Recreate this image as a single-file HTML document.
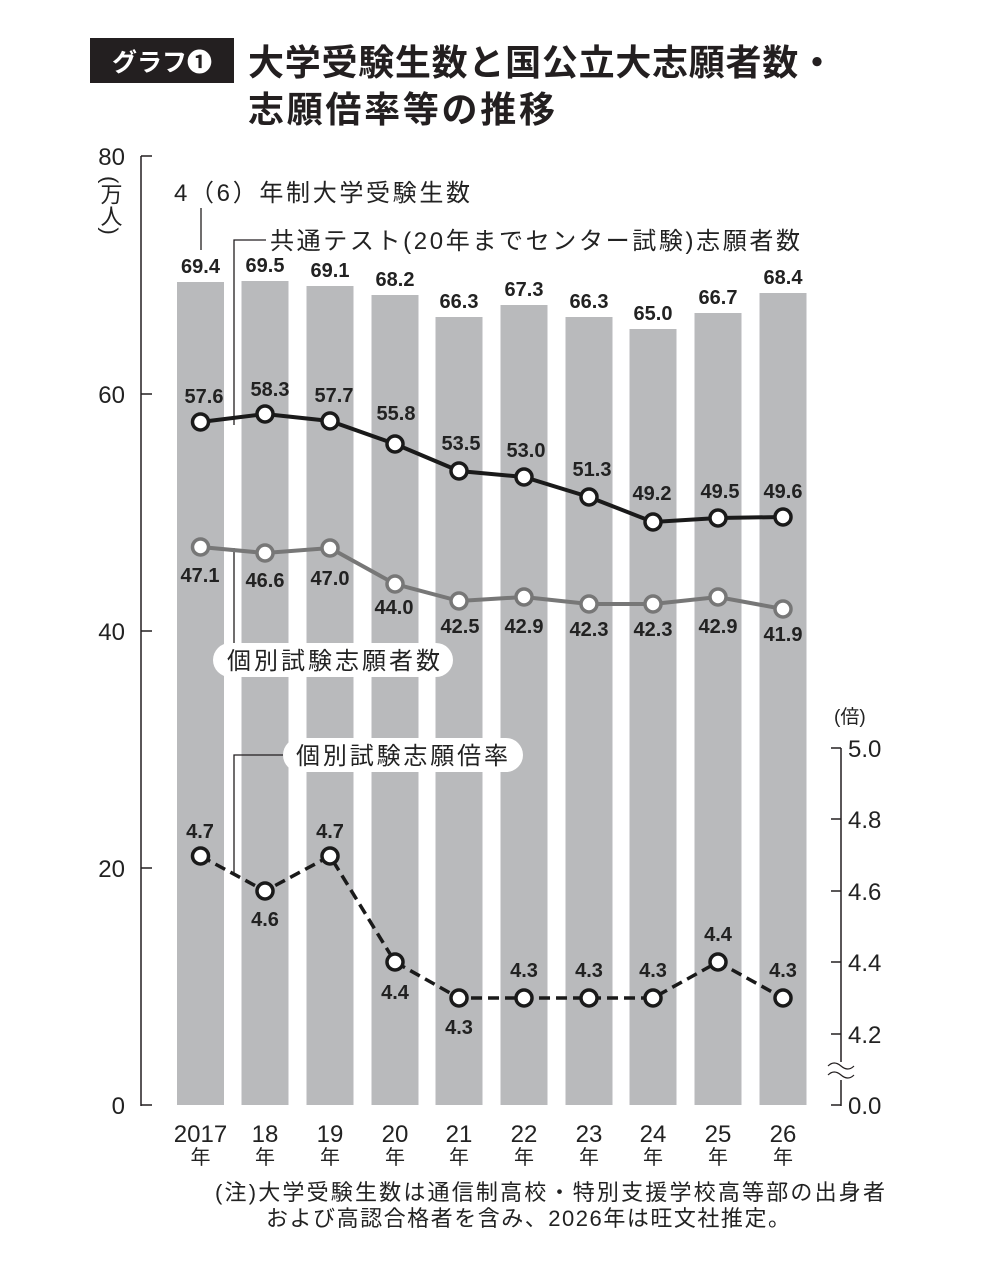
<!DOCTYPE html>
<html><head><meta charset="utf-8"><style>
body{margin:0;background:#fff;}
svg{display:block;font-family:"Liberation Sans","Noto Sans CJK JP",sans-serif;}
.b{font-weight:bold;font-size:20px;fill:#222;text-anchor:middle;}
.ax{font-size:24px;fill:#222;}
.lab{font-size:24px;fill:#222;}
</style></head><body>
<svg width="1000" height="1280" viewBox="0 0 1000 1280" xmlns="http://www.w3.org/2000/svg">
<rect x="90" y="38" width="144" height="45" fill="#231f20"/>
<text x="162" y="71" font-size="25" font-weight="bold" fill="#fff" text-anchor="middle">グラフ❶</text>
<text x="248" y="75" font-size="36" font-weight="bold" fill="#231f20" textLength="587" lengthAdjust="spacing">大学受験生数と国公立大志願者数・</text>
<text x="248" y="122" font-size="36" font-weight="bold" fill="#231f20" textLength="307" lengthAdjust="spacing">志願倍率等の推移</text>

<g fill="#b9babc">
<rect x="177" y="282" width="47" height="823"/>
<rect x="241.5" y="281" width="47" height="824"/>
<rect x="306.5" y="286" width="47" height="819"/>
<rect x="371.5" y="295" width="47" height="810"/>
<rect x="435.5" y="317" width="47" height="788"/>
<rect x="500.5" y="305" width="47" height="800"/>
<rect x="565.5" y="317" width="47" height="788"/>
<rect x="629.5" y="329" width="47" height="776"/>
<rect x="694.5" y="313" width="47" height="792"/>
<rect x="759.5" y="293" width="47" height="812"/>
</g>
<g class="b">
<text x="200.5" y="273">69.4</text><text x="265" y="272">69.5</text><text x="330" y="277">69.1</text>
<text x="395" y="286">68.2</text><text x="459" y="308">66.3</text><text x="524" y="296">67.3</text>
<text x="589" y="308">66.3</text><text x="653" y="320">65.0</text><text x="718" y="304">66.7</text><text x="783" y="284">68.4</text>
</g>

<g stroke="#231f20" stroke-width="1.5" fill="none">
<line x1="141" y1="156" x2="141" y2="1106"/>
<line x1="141" y1="156" x2="152" y2="156"/>
<line x1="141" y1="394" x2="152" y2="394"/>
<line x1="141" y1="631" x2="152" y2="631"/>
<line x1="141" y1="868" x2="152" y2="868"/>
<line x1="141" y1="1105" x2="152" y2="1105"/>
<line x1="841" y1="748" x2="841" y2="1062"/>
<line x1="841" y1="1080" x2="841" y2="1106"/>
<line x1="831" y1="748" x2="841" y2="748"/>
<line x1="831" y1="819" x2="841" y2="819"/>
<line x1="831" y1="891" x2="841" y2="891"/>
<line x1="831" y1="962" x2="841" y2="962"/>
<line x1="831" y1="1034" x2="841" y2="1034"/>
<line x1="831" y1="1105" x2="841" y2="1105"/>
<path d="M828 1066 q6 -6 13 0 t13 0 M828 1075 q6 -6 13 0 t13 0" stroke-width="1.2"/>
</g>
<g class="ax" text-anchor="end">
<text x="125" y="165">80</text><text x="125" y="403">60</text><text x="125" y="640">40</text>
<text x="125" y="877">20</text><text x="125" y="1114">0</text>
</g>
<text x="110" y="176" font-size="22" fill="#222" style="writing-mode:vertical-rl">(万人)</text>
<g class="ax" font-size="25">
<text x="848" y="757">5.0</text><text x="848" y="828">4.8</text><text x="848" y="900">4.6</text>
<text x="848" y="971">4.4</text><text x="848" y="1043">4.2</text><text x="848" y="1114">0.0</text>
</g>
<text x="834" y="723" font-size="19" fill="#222">(倍)</text>

<g class="ax" text-anchor="middle">
<text x="200.5" y="1142">2017</text><text x="265" y="1142">18</text><text x="330" y="1142">19</text><text x="395" y="1142">20</text>
<text x="459" y="1142">21</text><text x="524" y="1142">22</text><text x="589" y="1142">23</text><text x="653" y="1142">24</text>
<text x="718" y="1142">25</text><text x="783" y="1142">26</text>
</g>
<g font-size="20" fill="#222" text-anchor="middle">
<text x="200.5" y="1164">年</text><text x="265" y="1164">年</text><text x="330" y="1164">年</text><text x="395" y="1164">年</text>
<text x="459" y="1164">年</text><text x="524" y="1164">年</text><text x="589" y="1164">年</text><text x="653" y="1164">年</text>
<text x="718" y="1164">年</text><text x="783" y="1164">年</text>
</g>

<g stroke="#231f20" stroke-width="1.3" fill="none">
<line x1="201" y1="208" x2="201" y2="250"/>
<polyline points="266,240 234,240 234,425"/>
<line x1="234" y1="548" x2="234" y2="652"/>
<polyline points="285,755 234,755 234,873"/>
</g>
<text x="174" y="201" class="lab" textLength="296" lengthAdjust="spacing">4（6）年制大学受験生数</text>
<text x="270" y="249" class="lab" textLength="530" lengthAdjust="spacing">共通テスト(20年までセンター試験)志願者数</text>
<rect x="213" y="643" width="240" height="34" rx="17" fill="#fff"/>
<text x="227" y="669" class="lab" textLength="213" lengthAdjust="spacing">個別試験志願者数</text>
<rect x="283" y="738" width="240" height="34" rx="17" fill="#fff"/>
<text x="296" y="764" class="lab" textLength="212" lengthAdjust="spacing">個別試験志願倍率</text>

<polyline fill="none" stroke="#1a1a1a" stroke-width="4" points="200.5,422 265,414 330,421 395,444 459,471 524,477 589,497 653,522 718,518 783,517"/>
<polyline fill="none" stroke="#777" stroke-width="4" points="200.5,547 265,553 330,548 395,584 459,601 524,597 589,604 653,604 718,597 783,609"/>
<polyline fill="none" stroke="#1a1a1a" stroke-width="3.5" stroke-dasharray="11,6" points="200.5,856 265,891 330,856 395,962 459,998 524,998 589,998 653,998 718,962 783,998"/>

<g fill="#fff" stroke="#1a1a1a" stroke-width="3.5">
<circle cx="200.5" cy="422" r="8"/><circle cx="265" cy="414" r="8"/><circle cx="330" cy="421" r="8"/><circle cx="395" cy="444" r="8"/>
<circle cx="459" cy="471" r="8"/><circle cx="524" cy="477" r="8"/><circle cx="589" cy="497" r="8"/><circle cx="653" cy="522" r="8"/>
<circle cx="718" cy="518" r="8"/><circle cx="783" cy="517" r="8"/>
</g>
<g fill="#fff" stroke="#777" stroke-width="3.5">
<circle cx="200.5" cy="547" r="8"/><circle cx="265" cy="553" r="8"/><circle cx="330" cy="548" r="8"/><circle cx="395" cy="584" r="8"/>
<circle cx="459" cy="601" r="8"/><circle cx="524" cy="597" r="8"/><circle cx="589" cy="604" r="8"/><circle cx="653" cy="604" r="8"/>
<circle cx="718" cy="597" r="8"/><circle cx="783" cy="609" r="8"/>
</g>
<g fill="#fff" stroke="#1a1a1a" stroke-width="3.5">
<circle cx="200.5" cy="856" r="8"/><circle cx="265" cy="891" r="8"/><circle cx="330" cy="856" r="8"/><circle cx="395" cy="962" r="8"/>
<circle cx="459" cy="998" r="8"/><circle cx="524" cy="998" r="8"/><circle cx="589" cy="998" r="8"/><circle cx="653" cy="998" r="8"/>
<circle cx="718" cy="962" r="8"/><circle cx="783" cy="998" r="8"/>
</g>

<g class="b">
<text x="204" y="403">57.6</text><text x="270" y="396">58.3</text><text x="334" y="402">57.7</text><text x="396" y="420">55.8</text>
<text x="461" y="450">53.5</text><text x="526" y="457">53.0</text><text x="592" y="476">51.3</text><text x="652" y="500">49.2</text>
<text x="720" y="498">49.5</text><text x="783" y="498">49.6</text>

<text x="200" y="582">47.1</text><text x="265" y="587">46.6</text><text x="330" y="585">47.0</text><text x="394" y="614">44.0</text>
<text x="460" y="633">42.5</text><text x="524" y="633">42.9</text><text x="589" y="636">42.3</text><text x="653" y="636">42.3</text>
<text x="718" y="633">42.9</text><text x="783" y="641">41.9</text>

<text x="200" y="838">4.7</text><text x="265" y="926">4.6</text><text x="330" y="838">4.7</text><text x="395" y="999">4.4</text>
<text x="459" y="1034">4.3</text><text x="524" y="977">4.3</text><text x="589" y="977">4.3</text><text x="653" y="977">4.3</text>
<text x="718" y="941">4.4</text><text x="783" y="977">4.3</text>
</g>

<text x="215" y="1200" font-size="22" fill="#222" textLength="670" lengthAdjust="spacing">(注)大学受験生数は通信制高校・特別支援学校高等部の出身者</text>
<text x="266" y="1226" font-size="22" fill="#222" textLength="524" lengthAdjust="spacing">および高認合格者を含み、2026年は旺文社推定。</text>
</svg>
</body></html>
